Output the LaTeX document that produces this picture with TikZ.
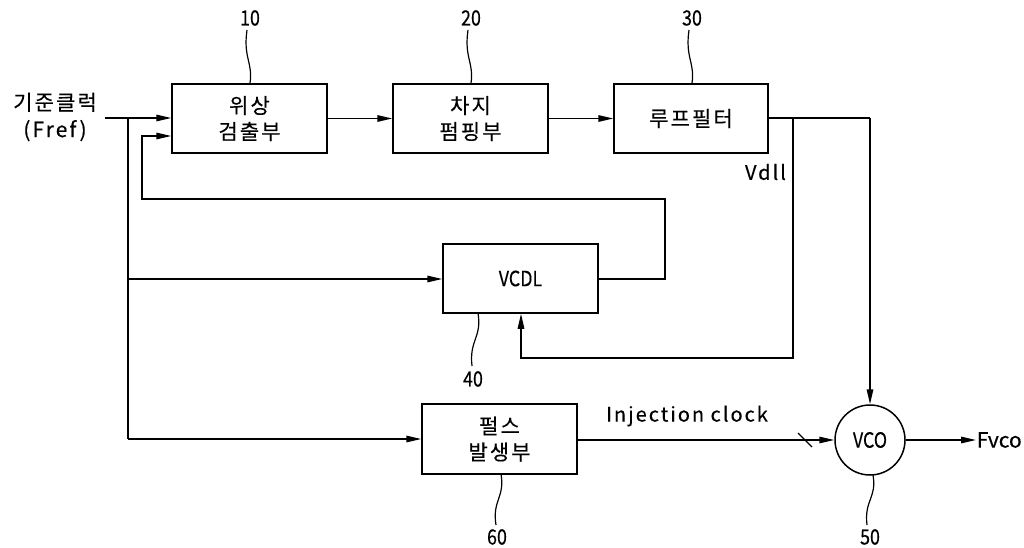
\documentclass[tikz,border=0pt]{standalone}
\usepackage{fontspec}
\setmainfont[FakeBold=0.3]{Noto Sans CJK KR}
\newfontfamily\kr[LetterSpace=10,FakeBold=0.3]{Noto Sans CJK KR}
\newfontfamily\lat[LetterSpace=10,FakeBold=0.3]{Noto Sans CJK KR}
\usetikzlibrary{arrows.meta}
\newcommand{\cond}[1]{\scalebox{0.85}[1]{#1}}
\begin{document}
\begin{tikzpicture}[x=1pt,y=-1pt,
  line width=1.5pt,
  blk/.style={draw,rectangle,minimum width=155pt,minimum height=69pt,inner sep=0pt,align=center,font=\fontsize{21}{26}\selectfont\kr},
  arr/.style={-{Triangle[length=15pt,width=6.5pt]}},
  wav/.style={line width=1.2pt},
  num/.style={font=\fontsize{21}{22}\selectfont},
  txt/.style={font=\fontsize{21}{27}\selectfont\kr,align=center},
  ltxt/.style={font=\fontsize{20}{22}\selectfont\lat}]
\useasboundingbox (0,0) rectangle (1024,548);
\node[blk] (pd) at (249.5,118.5) {위상\\검출부};
\node[blk] (cp) at (470.5,118.5) {차지\\펌핑부};
\node[blk,minimum width=154pt] (lf) at (691,118.5) {루프필터};
\node[blk,font=\fontsize{21}{22}\selectfont] (vcdl) at (520.5,278.5) {\cond{VCDL}};
\node[blk,minimum height=70pt] (pg) at (499.5,439) {펄스\\발생부};
\node[draw,circle,minimum size=70pt,inner sep=0pt,font=\fontsize{21}{22}\selectfont] (vco) at (870,440) {\cond{VCO}};
% input
\node[txt,anchor=center] (ref) at (55,117) {기준클럭\\(Fref)};
\coordinate (in) at (105,118);
\coordinate (j1) at (128,118);
\coordinate (j2) at (128,279);
\coordinate (j3) at (128,439);
\draw[arr] (in) -- (in -| pd.west);
\draw (j1) -- (j3);
\draw[arr] (j2) -- (j2 -| vcdl.west);
\draw[arr] (j3) -- (j3 -| pg.west);
% forward chain
\draw[arr] (pd) -- (cp);
\draw[arr] (cp) -- (lf);
% loop filter output
\coordinate (lo) at (870,118);
\coordinate (b1) at (793,118);
\coordinate (b2) at (793,358);
\coordinate (b3) at (521,358);
\draw (lf.east |- lo) -- (lo);
\draw[arr] (lo) -- (vco.north);
\draw[arr] (b1) -- (b2) -- (b3) -- (vcdl.south -| b3);
\node[ltxt,anchor=east] (vdll) at (790,172) {Vdll};
% VCDL feedback
\coordinate (f1) at (665,279);
\coordinate (f2) at (665,199);
\coordinate (f3) at (142,199);
\coordinate (f4) at (142,136);
\draw[arr] (vcdl.east |- f1) -- (f1) -- (f2) -- (f3) -- (f4) -- (f4 -| pd.west);
% injection clock
\draw[arr] (pg.east |- vco) -- (vco.west);
\coordinate (s1) at (798,433);
\coordinate (s2) at (812,447);
\draw[line width=1.2pt] (s1) -- (s2);
\node[ltxt] (inj) at (687,416) {Injection clock};
% output
\node[anchor=west,inner sep=0pt,font=\fontsize{21}{22}\selectfont] (fvco) at (976,440) {Fvco};
\draw[arr] (vco.east) -- (fvco.west);
% reference numbers
\node[num] (n10) at (250,18) {\cond{10}};
\node[num] (n20) at (471,18) {\cond{20}};
\node[num] (n30) at (692,18) {\cond{30}};
\node[num] (n40) at (473,379) {\cond{40}};
\node[num] (n60) at (497,537) {\cond{60}};
\node[num] (n50) at (870,537) {\cond{50}};
\draw[wav] (pd.north -| n10) .. controls (253,62) and (243,58) .. (247,30);
\draw[wav] (cp.north -| n20) .. controls (474,62) and (464,58) .. (468,30);
\draw[wav] (lf.north -| n30) .. controls (695,62) and (685,58) .. (689,30);
\draw[wav] (478,313) .. controls (482,338) and (469,340) .. (472,366);
\draw[wav] (501,474) .. controls (505,498) and (492,500) .. (496,525);
\draw[wav] (873,475) .. controls (877,498) and (864,500) .. (867,525);
\end{tikzpicture}
\end{document}
